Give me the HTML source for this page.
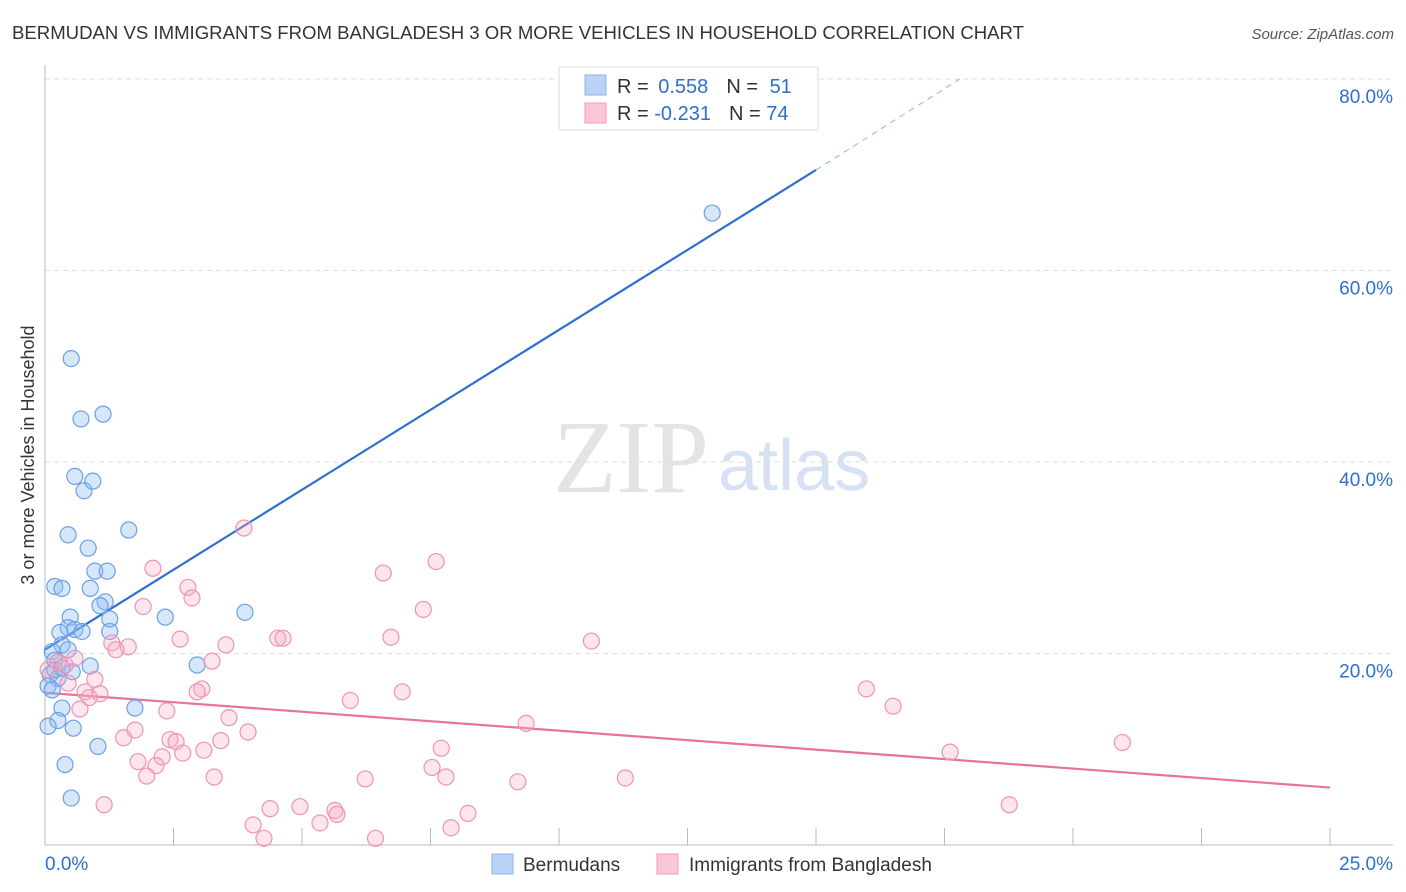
<!DOCTYPE html>
<html><head><meta charset="utf-8"><style>
body{margin:0;background:#fff;font-family:"Liberation Sans",sans-serif}
svg{display:block}
</style></head><body>
<svg id="chart" width="1406" height="892">
<text x="12" y="39" font-size="18" fill="#333" textLength="1012" lengthAdjust="spacingAndGlyphs">BERMUDAN VS IMMIGRANTS FROM BANGLADESH 3 OR MORE VEHICLES IN HOUSEHOLD CORRELATION CHART</text>
<text x="1394" y="39" font-size="15" fill="#555" font-style="italic" text-anchor="end">Source: ZipAtlas.com</text>
<text x="34" y="455" font-size="18" fill="#333" text-anchor="middle" transform="rotate(-90 34 455)">3 or more Vehicles in Household</text>
<g><text x="553" y="492" font-size="104" fill="#e4e4e4" font-family="Liberation Serif,serif">ZIP</text><text x="718" y="490" font-size="72" fill="#d6e2f3">atlas</text></g>
<g id="grid"></g><g id="axes"></g><g id="lines"></g><g id="pts"></g>
<g>
<rect x="559" y="67" width="259" height="63" fill="#fff" stroke="#ddd"/>
<rect x="585" y="75" width="21" height="20" fill="#b8d3f5" stroke="#8ab4ea"/>
<rect x="585" y="103" width="21" height="20" fill="#fbc7d6" stroke="#f19ab5"/>
<text x="617" y="93" font-size="20" fill="#333">R = <tspan fill="#2e6fd0" dx="4">0.558</tspan><tspan dx="18" fill="#333">N = </tspan><tspan fill="#2e6fd0" dx="6">51</tspan></text>
<text x="617" y="120" font-size="20" fill="#333">R = <tspan fill="#2e6fd0">-0.231</tspan><tspan dx="18" fill="#333">N = </tspan><tspan fill="#2e6fd0">74</tspan></text>
</g>
<g>
<rect x="492" y="854" width="21" height="20" fill="#b8d3f5" stroke="#8ab4ea"/>
<text x="523" y="871" font-size="19" fill="#333">Bermudans</text>
<rect x="657" y="854" width="21" height="20" fill="#fbc7d6" stroke="#f19ab5"/>
<text x="689" y="871" font-size="19" fill="#333">Immigrants from Bangladesh</text>
</g>
</svg>
<script>
const blueX=[0.51,0.70,1.13,0.58,0.76,0.93,0.45,1.63,0.84,0.19,0.33,0.97,1.21,0.88,1.17,1.07,0.49,2.34,3.89,1.26,0.45,0.29,0.58,0.72,1.26,0.33,0.45,0.14,0.19,0.88,2.96,0.53,0.10,0.25,0.06,0.14,0.33,1.75,0.25,0.06,0.55,1.03,0.39,0.51,12.98,0.19,0.33];
const blueY=[50.8,44.5,45.0,38.5,37.0,38.0,32.4,32.9,31.0,27.0,26.8,28.6,28.6,26.8,25.4,25.0,23.8,23.8,24.3,23.6,22.7,22.2,22.5,22.3,22.3,20.9,20.4,20.2,19.3,18.7,18.8,18.1,17.8,17.4,16.6,16.2,14.3,14.3,13.0,12.4,12.2,10.3,8.4,4.9,66.0,18.3,18.5];
const pinkX=[3.87,7.61,6.58,2.10,2.78,2.86,1.91,7.36,2.63,4.53,4.63,6.73,10.63,3.52,1.30,1.62,1.38,0.25,0.39,0.58,3.25,0.06,0.97,0.45,3.05,2.96,0.78,1.07,0.86,15.98,6.95,5.94,16.50,0.68,2.37,3.58,9.36,1.75,3.95,1.53,2.43,2.55,3.42,7.71,20.96,3.09,17.61,2.68,2.28,1.81,2.16,7.53,1.98,3.29,6.23,7.80,11.29,9.20,1.15,4.96,18.76,4.38,5.64,5.68,8.23,5.35,4.05,7.90,6.43,4.26];
const pinkY=[33.1,29.6,28.4,28.9,26.9,25.8,24.9,24.6,21.5,21.6,21.6,21.7,21.3,20.9,21.1,20.7,20.4,19.1,18.8,19.5,19.2,18.3,17.3,16.9,16.3,16.0,16.0,15.8,15.4,16.3,16.0,15.1,14.5,14.2,14.0,13.3,12.7,12.0,11.8,11.2,11.0,10.8,10.9,10.1,10.7,9.9,9.7,9.6,9.2,8.7,8.3,8.1,7.2,7.1,6.9,7.1,7.0,6.6,4.2,4.0,4.2,3.8,3.6,3.2,3.3,2.3,2.1,1.8,0.7,0.7];
const yTicks=[20,40,60,80];
const yTickLabels=["20.0%","40.0%","60.0%","80.0%"];
const blueLine=[0,20.4,15,70.5];
const blueDash=[15,70.5,17.8,80];
const pinkLine=[0,15.9,25,6.0];
const NS="http://www.w3.org/2000/svg";
const X=v=>45+v/25*1285, Y=v=>845-v/20*191.5;
function mk(t,a,p){const e=document.createElementNS(NS,t);for(const k in a)e.setAttribute(k,a[k]);document.getElementById(p).appendChild(e);return e;}
yTicks.forEach((t,i)=>{
 let g=mk('line',{x1:45,x2:1393,y1:Y(t),y2:Y(t),stroke:'#ddd','stroke-dasharray':'5,4'},'grid');
 
 
 let l=mk('text',{x:1393,y:Y(t)+24,'font-size':19,fill:'#2e6fd0','text-anchor':'end'},'grid');
 l.textContent=yTickLabels[i];
 
 
});
let ax=mk('line',{x1:45,x2:45,y1:65,y2:845,stroke:'#bbb'},'axes');


let bx=mk('line',{x1:45,x2:1393,y1:845,y2:845,stroke:'#bbb'},'axes');


for(let i=0;i<=10;i++){let t=mk('line',{x1:X(i*2.5),x2:X(i*2.5),y1:828,y2:845,stroke:'#bbb'},'axes');
 
 }
let x0=mk('text',{x:45,y:870,'font-size':19,fill:'#2e6fd0'},'axes');x0.textContent='0.0%';


let x1=mk('text',{x:1393,y:870,'font-size':19,fill:'#2e6fd0','text-anchor':'end'},'axes');x1.textContent='25.0%';


function ln(a,c,dash,name){let e=mk('line',{x1:X(a[0]),y1:Y(a[1]),x2:X(a[2]),y2:Y(a[3]),stroke:c,'stroke-width':dash?1:2.2},'lines');if(dash)e.setAttribute('stroke-dasharray','6,5');
 
 }
ln(blueLine,'#2e6fd0',false,'bermudan-trend-line');
ln(blueDash,'#8ab4ea',true,'bermudan-trend-extension');
ln(pinkLine,'#e8739a',false,'bangladesh-trend-line');
blueX.forEach((v,i)=>{let c=mk('circle',{cx:X(v),cy:Y(blueY[i]),r:8,fill:'rgba(140,185,240,0.35)',stroke:'#6aa0e6','stroke-width':1.2},'pts');
 
 });
pinkX.forEach((v,i)=>{let c=mk('circle',{cx:X(v),cy:Y(pinkY[i]),r:8,fill:'rgba(248,170,195,0.3)',stroke:'#ee93b3','stroke-width':1.2},'pts');
 
 });
</script>
</body></html>
